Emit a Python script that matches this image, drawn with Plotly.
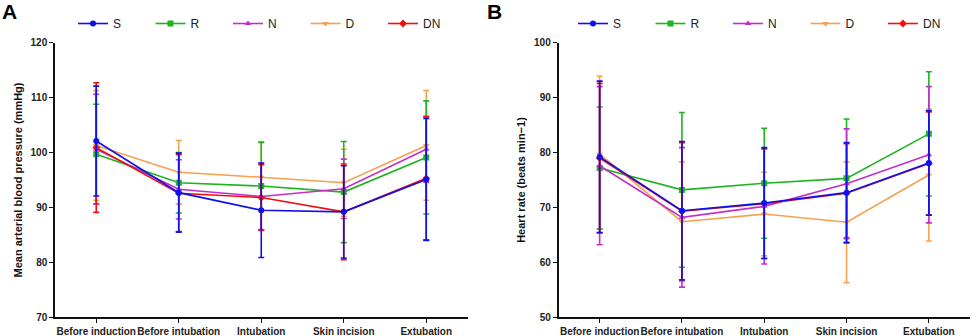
import plotly.graph_objects as go

categories = ["Before induction", "Before intubation", "Intubation", "Skin incision", "Extubation"]
groups = ["S", "R", "N", "D", "DN"]

# Panel A: mean arterial blood pressure (mmHg)
map_mean = {
    "S":  [102.1, 92.7, 89.5, 89.2, 95.1],
    "R":  [99.7, 94.5, 93.9, 92.8, 99.1],
    "N":  [100.6, 93.3, 92.0, 93.4, 100.6],
    "D":  [101.3, 96.4, 95.5, 94.5, 101.3],
    "DN": [100.9, 92.6, 91.8, 89.2, 95.3],
}
map_sd = {
    "S":  [10.0, 7.2, 8.6, 8.4, 11.1],
    "R":  [9.1, 5.5, 8.0, 9.2, 10.3],
    "N":  [10.0, 5.4, 6.0, 5.4, 6.0],
    "D":  [10.0, 5.8, 6.3, 6.1, 10.0],
    "DN": [11.8, 7.0, 6.0, 8.7, 11.2],
}

# Panel B: heart rate (beats min-1)
hr_mean = {
    "S":  [79.2, 69.4, 70.8, 72.7, 78.1],
    "R":  [77.2, 73.2, 74.4, 75.3, 83.4],
    "N":  [77.6, 68.2, 70.2, 74.3, 79.6],
    "D":  [79.7, 67.4, 68.8, 67.3, 75.9],
    "DN": [79.0, 69.3, 70.7, 72.6, 78.0],
}
hr_sd = {
    "S":  [13.8, 12.6, 10.1, 9.1, 9.5],
    "R":  [11.1, 14.1, 10.0, 10.8, 11.3],
    "N":  [14.4, 12.7, 10.5, 10.0, 12.4],
    "D":  [14.2, 10.9, 7.6, 11.0, 12.0],
    "DN": [13.6, 12.5, 10.0, 9.0, 9.4],
}

colors = {"S": "#1010E8", "R": "#1EB41E", "N": "#C030C8", "D": "#F7A04E", "DN": "#F01010"}
symbols = {"S": "circle", "R": "square", "N": "triangle-up", "D": "triangle-down", "DN": "diamond"}
draw_order = ["D", "R", "N", "DN", "S"]

FONT = "Arial, Liberation Sans, sans-serif"

fig = go.Figure()

for panel, (means, sds, xa, ya, lg) in enumerate([
    (map_mean, map_sd, "x", "y", "legend"),
    (hr_mean, hr_sd, "x2", "y2", "legend2"),
]):
    for g in draw_order:
        fig.add_trace(go.Scatter(
            x=categories, y=means[g], name=g,
            mode="lines+markers",
            line=dict(color=colors[g], width=1.6),
            marker=dict(symbol=symbols[g], size=6, color=colors[g]),
            error_y=dict(type="data", array=sds[g], visible=True,
                         color=colors[g], thickness=1.6, width=3),
            xaxis=xa, yaxis=ya, legend=lg,
            legendrank=groups.index(g),
        ))

W, H = 976, 336
ytop, ybot = 42.7, 317.3
ydom = [(H - ybot) / H, (H - ytop) / H]

axis_common = dict(showgrid=False, zeroline=False, showline=True, linecolor="#111",
                   linewidth=1.5, ticks="outside", ticklen=4, tickwidth=1.2, tickcolor="#111",
                   automargin=False)

fig.update_layout(
    width=W, height=H,
    margin=dict(l=0, r=0, t=0, b=0, autoexpand=False),
    paper_bgcolor="white", plot_bgcolor="white",
    font=dict(family=FONT, color="#222"),
    xaxis=dict(domain=[55 / W, 467.5 / W], anchor="y", type="category", range=[-0.5, 4.5],
               tickangle=0,
               tickfont=dict(size=10, family=FONT, color="#222", weight="bold"), **axis_common),
    yaxis=dict(domain=ydom, anchor="x", range=[70, 120], dtick=10,
               tickfont=dict(size=10, family=FONT, color="#222", weight="bold"),
               title=dict(text="Mean arterial blood pressure (mmHg)", standoff=6,
                          font=dict(size=11, family=FONT, color="#111", weight="bold")),
               **axis_common),
    xaxis2=dict(domain=[558.5 / W, 970 / W], anchor="y2", type="category", range=[-0.5, 4.5],
                tickangle=0,
                tickfont=dict(size=10, family=FONT, color="#222", weight="bold"), **axis_common),
    yaxis2=dict(domain=ydom, anchor="x2", range=[50, 100], dtick=10,
                tickfont=dict(size=10, family=FONT, color="#222", weight="bold"),
                title=dict(text="Heart rate (beats min\u22121)", standoff=6,
                           font=dict(size=11, family=FONT, color="#111", weight="bold")),
                **axis_common),
    legend=dict(orientation="h", x=73 / W, xanchor="left", y=1 - 9 / H, yanchor="top",
                entrywidth=32.5, entrywidthmode="pixels", traceorder="normal",
                font=dict(size=12, family=FONT, color="#222"), bgcolor="rgba(0,0,0,0)"),
    legend2=dict(orientation="h", x=573 / W, xanchor="left", y=1 - 9 / H, yanchor="top",
                 entrywidth=32.5, entrywidthmode="pixels", traceorder="normal",
                 font=dict(size=12, family=FONT, color="#222"), bgcolor="rgba(0,0,0,0)"),
    annotations=[
        dict(text="<b>A</b>", x=9.5 / W, y=1 - 12 / H, xref="paper", yref="paper",
             xanchor="center", yanchor="middle", showarrow=False,
             font=dict(size=21, family=FONT, color="#000")),
        dict(text="<b>B</b>", x=494 / W, y=1 - 12 / H, xref="paper", yref="paper",
             xanchor="center", yanchor="middle", showarrow=False,
             font=dict(size=21, family=FONT, color="#000")),
    ],
)

fig.write_html("out.html", config={"displayModeBar": False},
               post_script="document.body.style.margin='0';")
